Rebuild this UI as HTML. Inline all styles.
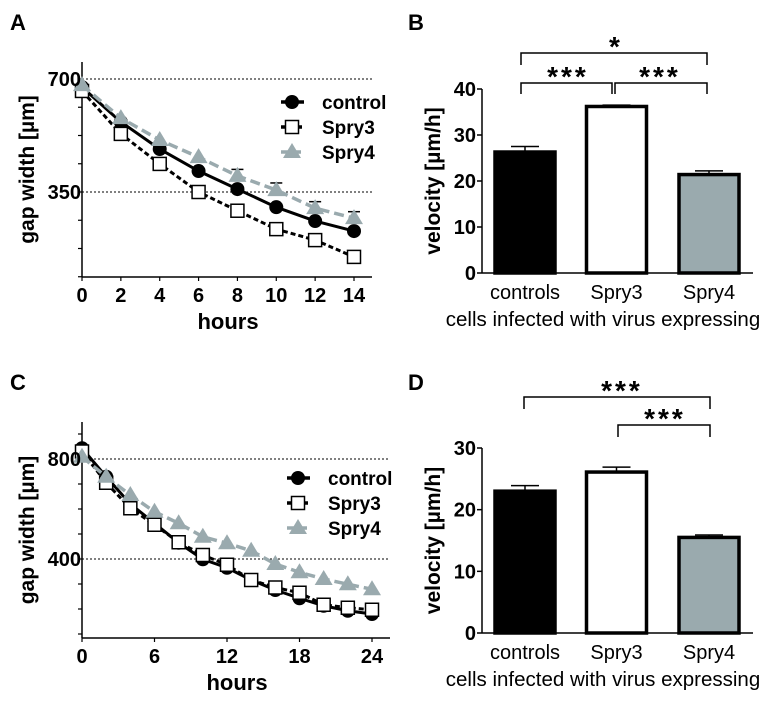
<!DOCTYPE html>
<html><head><meta charset="utf-8"><style>
html,body{margin:0;padding:0;background:#fff;}
svg{display:block;font-family:"Liberation Sans",Arial,sans-serif;}
</style></head><body>
<svg id="fig" width="777" height="702" viewBox="0 0 777 702">
<text x="10" y="30" font-size="22" font-weight="bold">A</text>
<text x="408" y="30" font-size="22" font-weight="bold">B</text>
<text x="10" y="390" font-size="22" font-weight="bold">C</text>
<text x="408" y="390" font-size="22" font-weight="bold">D</text>
</svg>
<script>
// ---- Panel A data ----
const hoursA = [0,2,4,6,8,10,12,14];
const controlA = [675,567,483,415,359,303,260,229];
const spry3A = [663,530,437,350,292,235,201,149];
const spry4A = [681,579,511,458,400,356,300,269];
const spry4ErrA = [0,0,0,0,20,22,20,20];
const xTicksA = [0,2,4,6,8,10,12,14];
const yTickLabelsA = [700,350];
// ---- Panel C data ----
const hoursC = [0,2,4,6,8,10,12,14,16,18,20,22,24];
const controlC = [843,729,620,543,465,399,365,316,276,243,213,193,180];
const spry3C = [830,705,603,537,467,416,377,316,286,265,217,205,197];
const spry4C = [809,729,656,589,543,489,463,433,380,347,320,299,279];
const xTicksC = [0,6,12,18,24];
const yTickLabelsC = [800,400];
// ---- Panel B data ----
const groups = ["controls","Spry3","Spry4"];
const velB = [26.3,36.2,21.4];
const errB = [1.2,0.3,0.8];
const yTicksB = [0,10,20,30,40];
// ---- Panel D data ----
const velD = [23.0,26.1,15.5];
const errD = [0.9,0.8,0.4];
const yTicksD = [0,10,20,30];

const NS="http://www.w3.org/2000/svg";
const svg=document.getElementById('fig');
function mk(tag,attrs,parent){const e=document.createElementNS(NS,tag);for(const k in attrs)e.setAttribute(k,attrs[k]);(parent||svg).appendChild(e);return e;}
function txt(x,y,s,size,anchor,weight,name){const t=mk('text',{x:x,y:y,'font-size':size,'text-anchor':anchor,'font-weight':weight});t.textContent=s;


return t;}
const GREY="#9aaaae";

function linePanel(o){
  const g=mk('g',{});
  
  
  const xs=v=>o.x0+(v-o.xmin)/(o.xmax-o.xmin)*(o.x1-o.x0);
  const ys=v=>o.yRef+(o.refVal-v)*o.k;
  o.grid.forEach(v=>{const l=mk('line',{x1:o.x0,x2:o.x1+18,y1:ys(v),y2:ys(v),stroke:'#000','stroke-width':1,'stroke-dasharray':'2,2'},g);
    
    });
  const ya=mk('line',{x1:o.x0,x2:o.x0,y1:o.yTop,y2:o.yBot,stroke:'#000','stroke-width':1.5},g);
  
  
  const xa=mk('line',{x1:o.x0,x2:o.x1+18,y1:o.yBot,y2:o.yBot,stroke:'#000','stroke-width':1.5},g);
  
  
  o.minor.forEach(v=>{mk('line',{x1:o.x0-4,x2:o.x0,y1:ys(v),y2:ys(v),stroke:'#000','stroke-width':1.2},g);});
  o.xticks.forEach(v=>{mk('line',{x1:xs(v),x2:xs(v),y1:o.yBot,y2:o.yBot+4,stroke:'#000','stroke-width':1.2},g);
    txt(xs(v),o.yBot+25,String(v),20,'middle','bold','x-tick-label');});
  o.ylabels.forEach(v=>txt(o.x0-1,ys(v)+7,String(v),20,'end','bold','y-tick-label'));
  txt((o.x0+o.x1)/2+10,o.yBot+52,'hours',22,'middle','bold','x-axis-title');
  const yt=txt(0,0,'gap width [µm]',21,'middle','bold','y-axis-title');
  yt.setAttribute('transform','translate(34,'+((o.yTop+o.yBot)/2)+') rotate(-90)');
  function path(vals,stroke,dash,w){const d=vals.map((v,i)=>(i?'L':'M')+xs(o.hours[i])+','+ys(v)).join('');
    return mk('path',{d:d,fill:'none',stroke:stroke,'stroke-width':w,'stroke-dasharray':dash},g);}
  const pc=path(o.sc,'#000','',3);
  
  
  const p3=path(o.s3,'#000','5,3',3);
  
  
  function circ(x,y,pg){return mk('circle',{cx:x,cy:y,r:7,fill:'#000'},pg);}
  function sq(x,y,pg){return mk('rect',{x:x-6.5,y:y-6.5,width:13,height:13,fill:'#fff',stroke:'#000','stroke-width':1.5},pg);}
  function tri(x,y,pg){return mk('polygon',{points:(x)+','+(y-9)+' '+(x-9)+','+(y+6)+' '+(x+9)+','+(y+6),fill:GREY},pg);}
  [[o.sc,circ,'control-point'],[o.s3,sq,'spry3-point']].forEach(([vals,fn,nm])=>vals.forEach((v,i)=>{const m=fn(xs(o.hours[i]),ys(v),g);
    
    }));
  const p4=path(o.s4,GREY,'10,5',3.5);
  
  
  if(o.e4) o.e4.forEach((e,i)=>{if(e>0){const x=xs(o.hours[i]),y=ys(o.s4[i]),ye=ys(o.s4[i]+e);
    mk('line',{x1:x,x2:x,y1:y,y2:ye,stroke:'#000','stroke-width':1.2},g);mk('line',{x1:x-6,x2:x+6,y1:ye,y2:ye,stroke:'#000','stroke-width':1.5},g);}});
  o.s4.forEach((v,i)=>{const m=tri(xs(o.hours[i]),ys(v),g);
    
    });
  const L=o.leg;
  [['control','#000','',circ],['Spry3','#000','5,3',sq],['Spry4',GREY,'8,4',tri]].forEach(([n,c,d,fn],i)=>{
    const y=L.y+i*25;
    mk('line',{x1:L.x-11,x2:L.x+12,y1:y,y2:y,stroke:c,'stroke-width':3.5,'stroke-dasharray':d},g);
    const m=fn(L.x,y,g);
    
    
    txt(L.x+30,y+7,n,19,'start','bold','legend-entry');
  });
}
linePanel({name:'panel-a-chart',x0:82,x1:354,xmin:0,xmax:14,yRef:79,refVal:700,k:113/350,yTop:62,yBot:277,
  grid:[700,350],minor:[700,612.5,525,437.5,350,262.5,175,87.5],xticks:xTicksA,ylabels:yTickLabelsA,
  hours:hoursA,sc:controlA,s3:spry3A,s4:spry4A,e4:spry4ErrA,leg:{x:292,y:102}});
linePanel({name:'panel-c-chart',x0:82,x1:372,xmin:0,xmax:24,yRef:459,refVal:800,k:0.25,yTop:422,yBot:638,
  grid:[800,400],minor:[900,800,700,600,500,400,300,200,100],xticks:xTicksC,ylabels:yTickLabelsC,
  hours:hoursC,sc:controlC,s3:spry3C,s4:spry4C,e4:null,leg:{x:298,y:478}});

function barPanel(o){
  const g=mk('g',{});
  
  
  const ys=v=>o.y0-(v)*o.k;
  const ya=mk('line',{x1:o.x0,x2:o.x0,y1:ys(o.ticks[o.ticks.length-1]),y2:o.y0,stroke:'#000','stroke-width':1.5},g);
  
  
  const xa=mk('line',{x1:o.x0,x2:753,y1:o.y0,y2:o.y0,stroke:'#000','stroke-width':1.5},g);
  
  
  o.ticks.forEach(v=>{mk('line',{x1:o.x0-5,x2:o.x0,y1:ys(v),y2:ys(v),stroke:'#000','stroke-width':1.5},g);
    txt(o.x0-6,ys(v)+7,String(v),20,'end','bold','y-tick-label');});
  const yt=txt(0,0,'velocity [µm/h]',21,'middle','bold','y-axis-title');
  yt.setAttribute('transform','translate(440,'+((ys(o.ticks[o.ticks.length-1])+o.y0)/2)+') rotate(-90)');
  const fills=['#000','#fff',GREY];
  const centers=[525,616.5,709];
  o.vals.forEach((v,i)=>{const c=centers[i],w=60;
    const top=ys(v+o.errs[i]);
    mk('line',{x1:c,x2:c,y1:ys(v),y2:top,stroke:'#000','stroke-width':1.5},g);
    mk('line',{x1:c-14,x2:c+14,y1:top,y2:top,stroke:'#000','stroke-width':1.5},g);
    const r=mk('rect',{x:c-w/2,y:ys(v),width:w,height:o.y0-ys(v),fill:fills[i],stroke:'#000','stroke-width':3.5},g);
    
    
    txt(c,o.y0+26,groups[i],20,'middle','normal','x-tick-label');
  });
  txt(603,o.y0+53,'cells infected with virus expressing',20.5,'middle','normal','x-axis-title');
  o.brackets.forEach(b=>{
    const p=mk('path',{d:'M'+b.a+','+(b.y+b.h)+'V'+b.y+'H'+b.b+'V'+(b.y+b.h),fill:'none',stroke:'#000','stroke-width':1.5},g);
    
    
    const t=txt(b.sx,b.y+3,b.s,28,'middle','bold','significance-stars');
    t.setAttribute('letter-spacing','3');
  });
}
barPanel({name:'panel-b-chart',x0:482,y0:273,k:4.6,ticks:yTicksB,vals:velB,errs:errB,
  brackets:[{a:521,b:707,y:53,h:12,s:'*',sx:616},{a:521,b:612,y:83,h:11,s:'***',sx:568},{a:615,b:707,y:83,h:11,s:'***',sx:660}]});
barPanel({name:'panel-d-chart',x0:482,y0:633,k:185/30,ticks:yTicksD,vals:velD,errs:errD,
  brackets:[{a:524,b:710,y:397,h:12,s:'***',sx:622},{a:618,b:710,y:425,h:12,s:'***',sx:665}]});
</script>
</body></html>
